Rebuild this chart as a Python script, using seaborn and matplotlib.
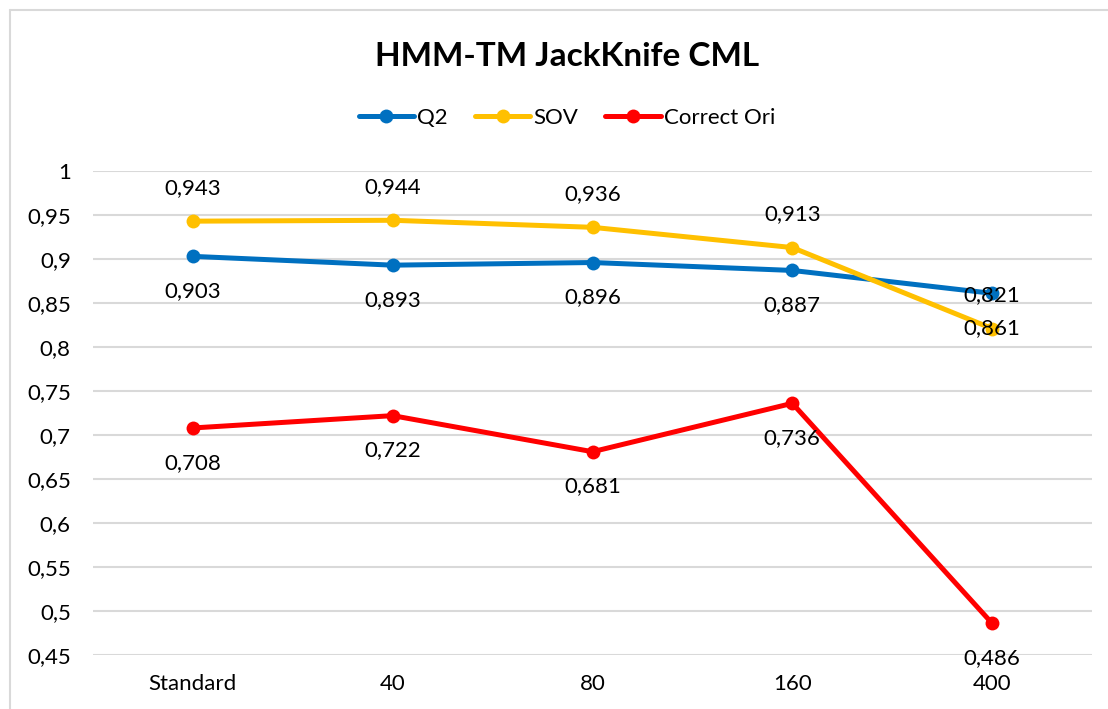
import pandas as pd
import seaborn as sns
import matplotlib.pyplot as plt
from matplotlib.lines import Line2D

# data
categories = ["Standard", "40", "80", "160", "400"]
q2 = [0.903, 0.893, 0.896, 0.887, 0.861]
sov = [0.943, 0.944, 0.936, 0.913, 0.821]
correct_ori = [0.708, 0.722, 0.681, 0.736, 0.486]

series = ["Q2", "SOV", "Correct Ori"]
colors = {"Q2": "#0070C0", "SOV": "#FFC000", "Correct Ori": "#FF0000"}
label_pos = {"Q2": "below", "SOV": "above", "Correct Ori": "below"}

df = pd.DataFrame({
    "cat": categories * 3,
    "x": list(range(len(categories))) * 3,
    "value": q2 + sov + correct_ori,
    "series": [s for s in series for _ in categories],
})

sns.set_theme(style="white")
plt.rcParams["font.family"] = ["Lato", "DejaVu Sans"]
plt.rcParams["text.color"] = "black"

fig = plt.figure(figsize=(11.08, 7.09), dpi=100)
ax = fig.add_axes([93 / 1108, 1 - 655 / 709, 999 / 1108, (655 - 171) / 709])

for s in series:
    d = df[df["series"] == s]
    sns.lineplot(data=d, x="x", y="value", color=colors[s], linewidth=3.6,
                 marker="o", markersize=10, markeredgewidth=0, ax=ax,
                 label=None, legend=False)
    for xi, v in zip(d["x"], d["value"]):
        off = 24 if label_pos[s] == "above" else -25
        ax.annotate(f"{v:.3f}".replace(".", ","), (xi, v), xytext=(0, off),
                    textcoords="offset points", ha="center", va="center",
                    fontsize=16, color="black")

ax.set_xlim(-0.5, len(categories) - 0.5)
ax.set_ylim(0.45, 1.0)
ax.set_xticks(range(len(categories)))
ax.set_xticklabels(categories)
yt = [0.45 + 0.05 * i for i in range(12)]
ax.set_yticks(yt)
ax.set_yticklabels([f"{t:.2f}".rstrip("0").rstrip(".").replace(".", ",") for t in yt])
ax.tick_params(axis="both", labelsize=16, length=0, colors="black")
ax.tick_params(axis="y", pad=16)
ax.tick_params(axis="x", pad=14)
ax.yaxis.grid(True, color="#D9D9D9", linewidth=1.5)
ax.set_axisbelow(True)
for sp in ax.spines.values():
    sp.set_visible(False)
ax.set_xlabel("")
ax.set_ylabel("")

fig.text(567 / 1108, 1 - 57 / 709, "HMM-TM JackKnife CML", ha="center", va="center",
         fontsize=24, fontweight="bold", color="black")

handles = [Line2D([], [], color=colors[s], linewidth=3.6, marker="o", markersize=10,
                  markeredgewidth=0) for s in series]
fig.legend(handles, series, loc="center", bbox_to_anchor=(567 / 1108, 1 - 118 / 709),
           ncol=3, frameon=False, fontsize=16, handlelength=2.5, handletextpad=0.15,
           columnspacing=1.2)

# outer chart border (top and left visible)
fig.add_artist(Line2D([10 / 1108, 1], [1 - 10 / 709, 1 - 10 / 709], color="#D9D9D9",
                      linewidth=1.5, transform=fig.transFigure))
fig.add_artist(Line2D([10 / 1108, 10 / 1108], [0, 1 - 10 / 709], color="#D9D9D9",
                      linewidth=1.5, transform=fig.transFigure))

fig.savefig("out.png", dpi=100)
